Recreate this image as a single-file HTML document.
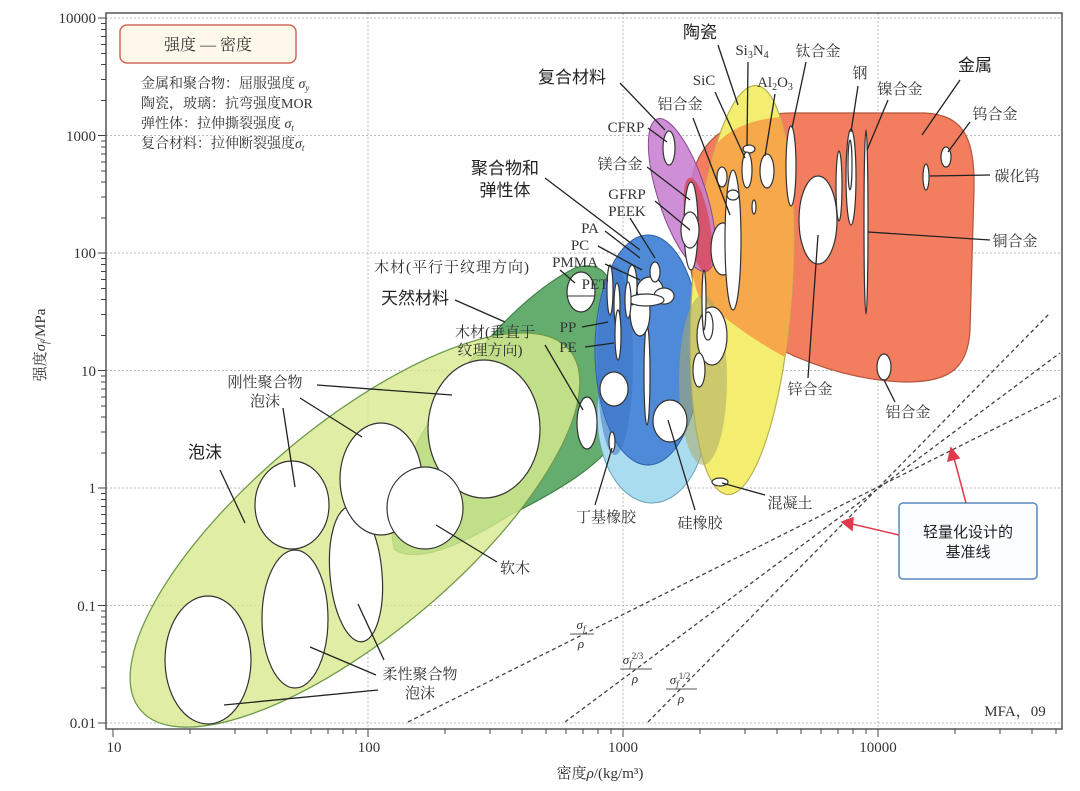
<!DOCTYPE html>
<html><head><meta charset="utf-8">
<style>
html,body{margin:0;padding:0;background:#fff;}
svg{display:block;}
.s{font-family:"Liberation Serif","Noto Serif CJK SC",serif;fill:#333;}
.h{font-family:"Liberation Sans","Noto Sans CJK SC",sans-serif;fill:#222;}
.ld{stroke:#222;stroke-width:1.3;fill:none;}
.w{fill:#fff;stroke:#333;stroke-width:1.2;}
</style></head>
<body>
<svg width="1080" height="791" viewBox="0 0 1080 791" xmlns="http://www.w3.org/2000/svg">
<defs>
<clipPath id="metClip"><path d="M690,200 C690,140 730,115 790,113 L925,113 C965,115 975,140 974,190 L970,330 C968,372 945,382 905,382 C830,380 760,345 700,300 C688,280 688,240 690,200 Z"/></clipPath>
<clipPath id="frame"><rect x="106" y="13" width="956" height="716"/></clipPath>
</defs>

<g stroke="#bbb" stroke-width="1" stroke-dasharray="2,2">
<line x1="368" y1="13" x2="368" y2="729"/><line x1="623" y1="13" x2="623" y2="729"/><line x1="878" y1="13" x2="878" y2="729"/>
<line x1="106" y1="18" x2="1062" y2="18"/><line x1="106" y1="135.5" x2="1062" y2="135.5"/><line x1="106" y1="253" x2="1062" y2="253"/>
<line x1="106" y1="370.5" x2="1062" y2="370.5"/><line x1="106" y1="488" x2="1062" y2="488"/><line x1="106" y1="605.5" x2="1062" y2="605.5"/><line x1="106" y1="723" x2="1062" y2="723"/>
</g>

<g clip-path="url(#frame)">
<path d="M395,550 C385,520 400,470 430,420 C470,350 530,290 575,268 C600,260 615,275 615,310 L615,440 C600,465 560,490 510,515 C470,540 420,565 395,550 Z" fill="#65ad6e" stroke="#3f7f45" stroke-width="1.2"/>
<ellipse cx="355" cy="530" rx="280" ry="105" transform="rotate(-40 355 530)" fill="#d8ea8e" fill-opacity="0.8" stroke="#6f9a4a" stroke-width="1.3"/>

<ellipse cx="652" cy="415" rx="55" ry="88" fill="#aadcf0" stroke="#6aa0b0" stroke-width="1"/>
<ellipse cx="648" cy="350" rx="53" ry="115" fill="#4f8ad8" stroke="#2f5fa8" stroke-width="1"/>
<ellipse cx="615" cy="360" rx="18" ry="95" fill="#3a70c0" opacity="0.5"/>

<path d="M690,200 C690,140 730,115 790,113 L925,113 C965,115 975,140 974,190 L970,330 C968,372 945,382 905,382 C830,380 760,345 700,300 C688,280 688,240 690,200 Z" fill="#f27d5f" stroke="#b4553f" stroke-width="1.2"/>
<ellipse cx="742" cy="290" rx="50" ry="205" transform="rotate(4 742 290)" fill="#f4ee70" stroke="#b8b050" stroke-width="1.2"/>
<ellipse cx="742" cy="290" rx="50" ry="205" transform="rotate(4 742 290)" fill="#f6a84a" clip-path="url(#metClip)"/>
<ellipse cx="703" cy="380" rx="24" ry="85" fill="#a9ac6a" opacity="0.55"/>
<ellipse cx="682" cy="195" rx="24" ry="80" transform="rotate(-18 682 195)" fill="#c77bd0" fill-opacity="0.85" stroke="#8a4a90" stroke-width="1"/>
<ellipse cx="698" cy="225" rx="12" ry="48" transform="rotate(-10 698 225)" fill="#d8485a" opacity="0.8"/>

<ellipse class="w" cx="208" cy="660" rx="43" ry="64"/>
<ellipse class="w" cx="295" cy="619" rx="33" ry="69"/>
<ellipse class="w" cx="356" cy="574" rx="26" ry="68" transform="rotate(-5 356 574)"/>
<ellipse class="w" cx="292" cy="505" rx="37" ry="44"/>
<ellipse class="w" cx="381" cy="479" rx="41" ry="56"/>
<ellipse class="w" cx="484" cy="429" rx="56" ry="69"/>
<ellipse class="w" cx="425" cy="508" rx="38" ry="41"/>
<ellipse class="w" cx="587" cy="423" rx="10" ry="26"/>
<ellipse class="w" cx="581" cy="292" rx="14" ry="20"/>
<line x1="567" y1="296" x2="595" y2="296" stroke="#333"/>
<ellipse class="w" cx="614" cy="389" rx="14" ry="17"/>
<ellipse class="w" cx="670" cy="421" rx="17" ry="21"/>
<ellipse class="w" cx="647" cy="375" rx="3" ry="50"/>
<ellipse class="w" cx="612" cy="442" rx="3" ry="10"/>
<ellipse class="w" cx="610" cy="290" rx="3" ry="25"/>
<ellipse class="w" cx="617" cy="305" rx="3" ry="22"/>
<ellipse class="w" cx="618" cy="335" rx="3" ry="25"/>
<ellipse class="w" cx="640" cy="312" rx="10" ry="24"/>
<ellipse class="w" cx="632" cy="285" rx="5" ry="20"/>
<ellipse class="w" cx="650" cy="290" rx="13" ry="13"/>
<ellipse class="w" cx="664" cy="296" rx="10" ry="8"/>
<ellipse class="w" cx="646" cy="300" rx="18" ry="6"/>
<ellipse class="w" cx="655" cy="272" rx="5" ry="10"/>
<ellipse class="w" cx="628" cy="300" rx="3" ry="18"/>
<ellipse class="w" cx="712" cy="336" rx="15" ry="29"/>
<ellipse class="w" cx="708" cy="326" rx="5" ry="14"/>
<ellipse class="w" cx="699" cy="370" rx="6" ry="17"/>
<ellipse class="w" cx="720" cy="482" rx="8" ry="4"/>
<ellipse class="w" cx="723" cy="249" rx="12" ry="26"/>
<ellipse class="w" cx="733" cy="240" rx="8" ry="70"/>
<ellipse class="w" cx="722" cy="177" rx="5" ry="10"/>
<ellipse class="w" cx="733" cy="195" rx="6" ry="5"/>
<ellipse class="w" cx="749" cy="149" rx="6" ry="4"/>
<ellipse class="w" cx="747" cy="170" rx="5" ry="18"/>
<ellipse class="w" cx="767" cy="171" rx="7" ry="17"/>
<ellipse class="w" cx="754" cy="207" rx="2" ry="7"/>
<ellipse class="w" cx="691" cy="226" rx="7" ry="44"/>
<ellipse class="w" cx="690" cy="230" rx="9" ry="18"/>
<ellipse class="w" cx="669" cy="148" rx="6" ry="17"/>
<ellipse class="w" cx="704" cy="300" rx="2" ry="30"/>
<ellipse class="w" cx="791" cy="166" rx="5" ry="40"/>
<ellipse class="w" cx="818" cy="220" rx="19" ry="44"/>
<ellipse class="w" cx="839" cy="186" rx="3" ry="35"/>
<ellipse class="w" cx="851" cy="177" rx="5" ry="48"/>
<ellipse class="w" cx="850" cy="165" rx="2" ry="25"/>
<ellipse class="w" cx="866" cy="222" rx="2" ry="92"/>
<ellipse class="w" cx="946" cy="157" rx="5" ry="10"/>
<ellipse class="w" cx="926" cy="177" rx="3" ry="13"/>
<ellipse class="w" cx="884" cy="367" rx="7" ry="13"/>

<g stroke="#444" stroke-width="1.3" stroke-dasharray="4,3" fill="none">
<line x1="408" y1="722" x2="1060" y2="396"/>
<line x1="565" y1="722" x2="1060" y2="353"/>
<line x1="648" y1="722" x2="1050" y2="313"/>
</g>
</g>

<rect x="106" y="13" width="956" height="716" fill="none" stroke="#555" stroke-width="1.5"/>
<path stroke="#444" stroke-width="1" fill="none" d="M113,729v8M368,729v8M623,729v8M878,729v8
M190,729v5M235,729v5M267,729v5M291,729v5M311,729v5M328,729v5M343,729v5M356,729v5
M445,729v5M490,729v5M522,729v5M546,729v5M566,729v5M583,729v5M598,729v5M611,729v5
M700,729v5M745,729v5M777,729v5M801,729v5M821,729v5M838,729v5M853,729v5M866,729v5
M955,729v5M1000,729v5M1032,729v5M1056,729v5
M98,723h8M98,605.5h8M98,488h8M98,370.5h8M98,253h8M98,135.5h8M98,18h8
M101,688h5M101,667h5M101,652h5M101,641h5M101,632h5M101,624h5M101,617h5M101,611h5
M101,570.5h5M101,549.5h5M101,534.5h5M101,523.5h5M101,514.5h5M101,506.5h5M101,499.5h5M101,493.5h5
M101,453h5M101,432h5M101,417h5M101,406h5M101,397h5M101,389h5M101,382h5M101,376h5
M101,335.5h5M101,314.5h5M101,299.5h5M101,288.5h5M101,279.5h5M101,271.5h5M101,264.5h5M101,258.5h5
M101,218h5M101,197h5M101,182h5M101,171h5M101,162h5M101,154h5M101,147h5M101,141h5
M101,100.5h5M101,79.5h5M101,64.5h5M101,53.5h5M101,44.5h5M101,36.5h5M101,29.5h5M101,23.5h5"/>

<g class="s" font-size="15" text-anchor="end">
<text x="96" y="23">10000</text><text x="96" y="141">1000</text><text x="96" y="258">100</text>
<text x="96" y="376">10</text><text x="96" y="493">1</text><text x="96" y="611">0.1</text><text x="96" y="728">0.01</text>
</g>
<g class="s" font-size="15" text-anchor="middle">
<text x="114" y="752">10</text><text x="369" y="752">100</text><text x="623" y="752">1000</text><text x="878" y="752">10000</text>
<text x="600" y="778">密度<tspan font-style="italic">ρ</tspan>/(kg/m³)</text>
</g>
<text class="s" font-size="15" text-anchor="middle" transform="translate(45 345) rotate(-90)">强度<tspan font-style="italic">σ<tspan font-size="10" dy="3">f</tspan></tspan><tspan dy="-3">/MPa</tspan></text>

<rect x="120" y="25" width="176" height="38" rx="7" fill="#fdf8ea" stroke="#d0685a" stroke-width="1.5"/>
<text class="s" x="208" y="50" font-size="16" text-anchor="middle">强度 — 密度</text>
<g class="s" font-size="14">
<text x="141" y="88">金属和聚合物：屈服强度 <tspan font-style="italic">σ<tspan font-size="9" dy="3">y</tspan></tspan></text>
<text x="141" y="108">陶瓷，玻璃：抗弯强度MOR</text>
<text x="141" y="128">弹性体：拉伸撕裂强度 <tspan font-style="italic">σ<tspan font-size="9" dy="3">t</tspan></tspan></text>
<text x="141" y="148">复合材料：拉伸断裂强度<tspan font-style="italic">σ<tspan font-size="9" dy="3">t</tspan></tspan></text>
</g>

<g class="ld">
<path d="M718,45L738,105M748,62L747,146M806,62L792,128M620,83L665,130M715,92L745,158M775,94L765,156M858,86L851,132M888,100L867,150M960,80L922,135M693,118L730,215M970,122L948,152M648,128L667,142M647,167L690,200M990,175L930,176M545,178L640,250M655,201L690,230M630,218L655,258M605,231L640,258M598,246L642,270M605,264L640,280M990,240L868,232M560,270L575,283M455,300L505,322M582,327L608,322M585,347L614,343M545,345L583,410M317,385L452,395M300,398L362,437M283,408L295,487M808,378L818,235M895,402L884,380M220,470L245,523M765,495L722,483M595,505L612,448M695,510L668,420M497,562L436,525M384,660L358,604M376,675L310,647M378,690L224,705"/>
</g>

<g class="h" font-size="17" text-anchor="middle">
<text x="700" y="38">陶瓷</text>
<text x="572" y="83">复合材料</text>
<text x="975" y="71">金属</text>
<text x="505" y="174">聚合物和</text>
<text x="505" y="196">弹性体</text>
<text x="415" y="304">天然材料</text>
<text x="205" y="458">泡沫</text>
</g>
<g class="s" font-size="15" text-anchor="middle">
<text x="752" y="55">Si<tspan font-size="10" dy="3">3</tspan><tspan dy="-3">N</tspan><tspan font-size="10" dy="3">4</tspan></text>
<text x="818" y="56">钛合金</text>
<text x="704" y="85">SiC</text>
<text x="775" y="87">Al<tspan font-size="10" dy="3">2</tspan><tspan dy="-3">O</tspan><tspan font-size="10" dy="3">3</tspan></text>
<text x="860" y="78">钢</text>
<text x="900" y="94">镍合金</text>
<text x="680" y="109">铝合金</text>
<text x="995" y="119">钨合金</text>
<text x="626" y="132">CFRP</text>
<text x="620" y="169">镁合金</text>
<text x="1017" y="181">碳化钨</text>
<text x="627" y="199">GFRP</text>
<text x="627" y="216">PEEK</text>
<text x="590" y="233">PA</text>
<text x="580" y="250">PC</text>
<text x="575" y="267">PMMA</text>
<text x="1015" y="246">铜合金</text>
<text x="452" y="272" letter-spacing="1">木材(平行于纹理方向)</text>
<text x="595" y="289">PET</text>
<text x="568" y="332">PP</text>
<text x="568" y="352">PE</text>
<text x="495" y="337">木材(垂直于</text>
<text x="490" y="355">纹理方向)</text>
<text x="265" y="387">刚性聚合物</text>
<text x="265" y="406">泡沫</text>
<text x="810" y="394">锌合金</text>
<text x="908" y="417">铝合金</text>
<text x="790" y="508">混凝土</text>
<text x="606" y="522">丁基橡胶</text>
<text x="700" y="528">硅橡胶</text>
<text x="515" y="573">软木</text>
<text x="420" y="679">柔性聚合物</text>
<text x="420" y="698">泡沫</text>
<text x="1015" y="716">MFA，09</text>
</g>

<g class="s" font-size="13" text-anchor="middle" font-style="italic">
<text x="581" y="629">σ<tspan font-size="9" dy="3">f</tspan></text>
<line x1="570" y1="634" x2="594" y2="634" stroke="#555"/>
<text x="581" y="648">ρ</text>
<text x="633" y="664">σ<tspan font-size="9" dy="3">f</tspan><tspan font-size="9" dy="-8" font-style="normal">2/3</tspan></text>
<line x1="620" y1="669" x2="652" y2="669" stroke="#555"/>
<text x="635" y="683">ρ</text>
<text x="680" y="684">σ<tspan font-size="9" dy="3">f</tspan><tspan font-size="9" dy="-8" font-style="normal">1/2</tspan></text>
<line x1="666" y1="689" x2="697" y2="689" stroke="#555"/>
<text x="681" y="703">ρ</text>
</g>

<rect x="899" y="503" width="138" height="76" rx="4" fill="#fbfdff" stroke="#5a86c0" stroke-width="1.5"/>
<text class="h" x="968" y="537" font-size="15" text-anchor="middle">轻量化设计的</text>
<text class="h" x="968" y="557" font-size="15" text-anchor="middle">基准线</text>
<g stroke="#e03a4a" stroke-width="1.5" fill="#e03a4a">
<line x1="966" y1="503" x2="954" y2="458"/>
<polygon points="951,448 948,461 959,458"/>
<line x1="899" y1="535" x2="852" y2="524"/>
<polygon points="842,522 853,518 852,530"/>
</g>
</svg>
</body></html>
